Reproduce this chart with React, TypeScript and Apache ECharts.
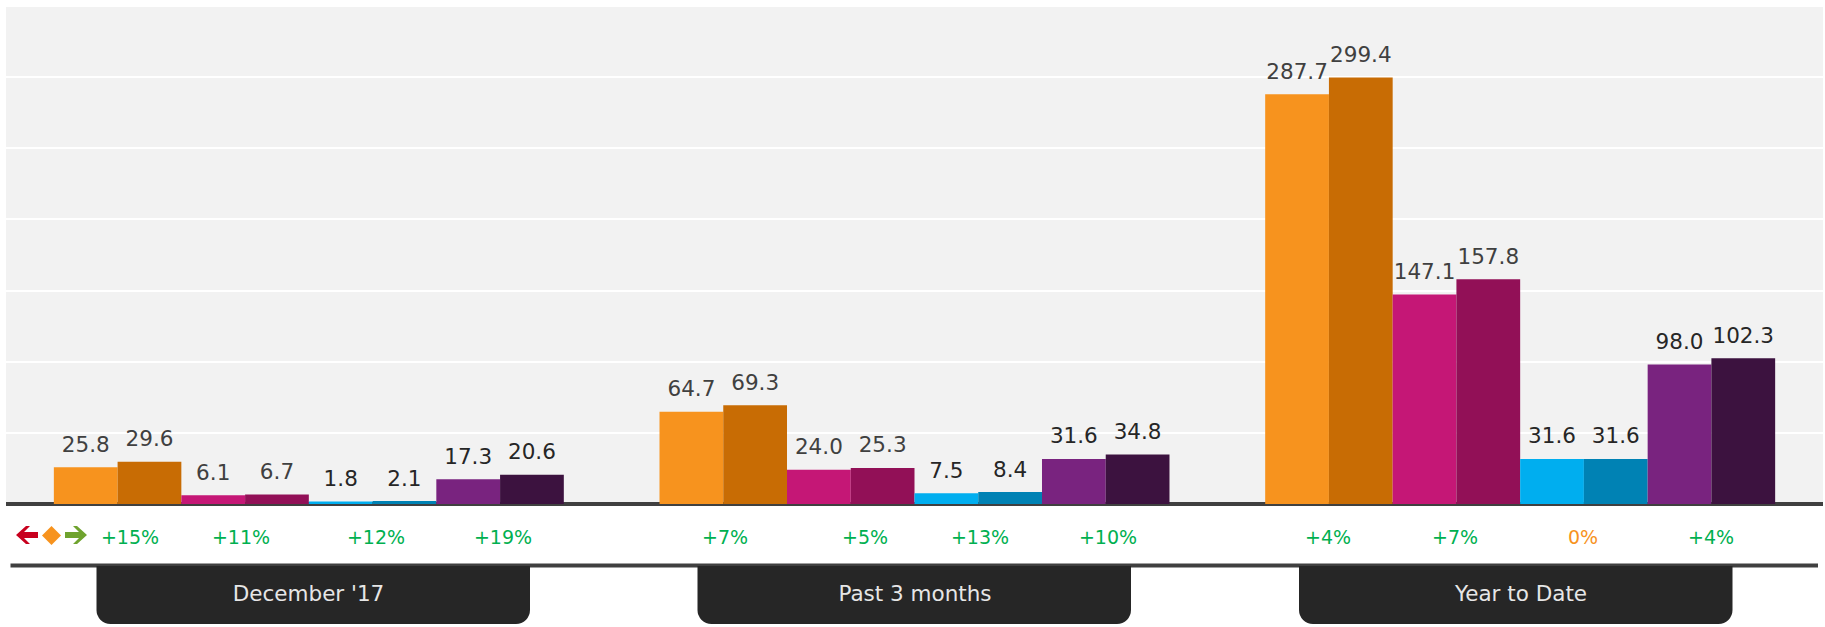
import React, { useEffect, useRef } from "react";
import * as echarts from "echarts";

const periods = ["December '17", "Past 3 months", "Year to Date"];
const orangeA = [25.8, 64.7, 287.7];
const orangeB = [29.6, 69.3, 299.4];
const pinkA = [6.1, 24.0, 147.1];
const pinkB = [6.7, 25.3, 157.8];
const blueA = [1.8, 7.5, 31.6];
const blueB = [2.1, 8.4, 31.6];
const purpleA = [17.3, 31.6, 98.0];
const purpleB = [20.6, 34.8, 102.3];
const changes = ["+15%", "+11%", "+12%", "+19%", "+7%", "+5%", "+13%", "+10%", "+4%", "+7%", "0%", "+4%"];

const changeX = [130, 241, 376, 503, 725, 865, 980, 1108, 1328, 1455, 1583, 1711];
const tabX = [96.5, 697.5, 1299];
const tabTextX = [308.5, 915, 1521];
const FONT = "'DejaVu Sans', Verdana, sans-serif";

const seriesDefs = [
  { name: "orangeA", data: orangeA, color: "#f7931e", text: "#404040" },
  { name: "orangeB", data: orangeB, color: "#c86c04", text: "#404040" },
  { name: "pinkA", data: pinkA, color: "#c51776", text: "#404040" },
  { name: "pinkB", data: pinkB, color: "#921057", text: "#404040" },
  { name: "blueA", data: blueA, color: "#00aeef", text: "#262626" },
  { name: "blueB", data: blueB, color: "#0082b4", text: "#262626" },
  { name: "purpleA", data: purpleA, color: "#79237f", text: "#262626" },
  { name: "purpleB", data: purpleB, color: "#3c123f", text: "#262626" },
];

export default function App() {
  const ref = useRef<HTMLDivElement>(null);

  useEffect(() => {
    document.body.style.margin = "0";
    const chart = echarts.init(ref.current!, undefined, { renderer: "svg" });

    const changeTexts = changes.map((t, i) => ({
      type: "text",
      x: changeX[i],
      y: 537,
      style: {
        text: t,
        fill: t === "0%" ? "#f7931e" : "#00b050",
        font: `19px ${FONT}`,
        textAlign: "center",
        textVerticalAlign: "middle",
      },
    }));

    const tabs = periods.flatMap((p, i) => [
      {
        type: "rect",
        shape: { x: tabX[i], y: 566, width: 433.5, height: 58, r: [0, 0, 14, 14] },
        style: { fill: "#262626" },
      },
      {
        type: "text",
        x: tabTextX[i],
        y: 593,
        style: {
          text: p,
          fill: "#e6e6e6",
          font: `21.5px ${FONT}`,
          textAlign: "center",
          textVerticalAlign: "middle",
        },
      },
    ]);

    chart.setOption({
      animation: false,
      grid: {
        show: true,
        left: 6,
        right: 2,
        top: 5.5,
        bottom: 123,
        backgroundColor: "#f2f2f2",
        borderWidth: 0,
      },
      xAxis: {
        type: "category",
        data: periods,
        offset: 1,
        axisLine: { lineStyle: { color: "#404040", width: 4, cap: "butt" } },
        axisTick: { show: false },
        axisLabel: { show: false },
        splitLine: { show: false },
      },
      yAxis: {
        type: "value",
        min: 0,
        max: 350,
        interval: 50,
        axisLine: { show: false },
        axisTick: { show: false },
        axisLabel: { show: false },
        splitLine: { show: true, lineStyle: { color: "#ffffff", width: 2 } },
      },
      series: seriesDefs.map((s) => ({
        type: "bar",
        name: s.name,
        data: s.data,
        barGap: 0,
        barCategoryGap: "15.8%",
        itemStyle: { color: s.color },
        label: {
          show: true,
          position: "top",
          distance: 12,
          color: s.text,
          fontFamily: FONT,
          fontSize: 21.5,
          formatter: (p: any) => Number(p.value).toFixed(1),
        },
      })),
      graphic: [
        {
          type: "line",
          shape: { x1: 10.5, y1: 565.5, x2: 1818, y2: 565.5 },
          style: { stroke: "#404040", lineWidth: 4 },
        },
        {
          type: "polygon",
          shape: { points: [[16, 535], [26, 526], [30, 526], [24, 532], [38, 532], [38, 538], [24, 538], [30, 544], [26, 544]] },
          style: { fill: "#c8001e" },
        },
        {
          type: "polygon",
          shape: { points: [[42, 535.5], [51.5, 526], [61, 535.5], [51.5, 545]] },
          style: { fill: "#f7931e" },
        },
        {
          type: "polygon",
          shape: { points: [[87, 535], [77, 526], [73, 526], [79, 532], [65, 532], [65, 538], [79, 538], [73, 544], [77, 544]] },
          style: { fill: "#6fa32e" },
        },
        ...changeTexts,
        ...tabs,
      ],
    });

    return () => chart.dispose();
  }, []);

  return <div ref={ref} style={{ width: 1825, height: 627 }} />;
}
